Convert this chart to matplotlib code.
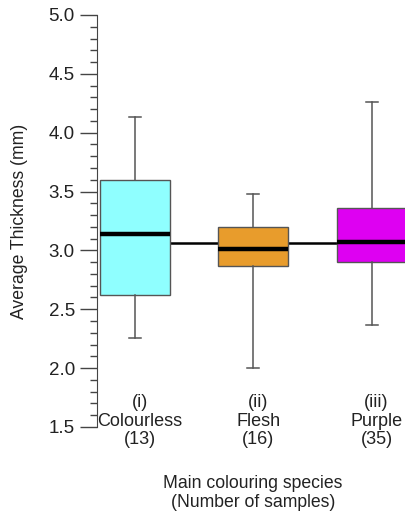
import matplotlib
matplotlib.use("Agg")
import matplotlib.pyplot as plt
from matplotlib.ticker import MultipleLocator

plt.rcParams['font.family'] = ['Liberation Sans', 'DejaVu Sans']

# Box statistics per colouring species
categories = ["(i)\nColourless\n(13)", "(ii)\nFlesh\n(16)", "(iii)\nPurple\n(35)"]
whisker_low = [2.26, 2.00, 2.37]
q1 = [2.62, 2.87, 2.90]
median = [3.14, 3.01, 3.07]
q3 = [3.60, 3.20, 3.36]
whisker_high = [4.13, 3.48, 4.26]
box_colors = ["#8FFFFF", "#E89C2C", "#DE00F2"]
overall_mean = 3.06

fig = plt.figure(figsize=(4.05, 5.16), dpi=100)
ax = fig.add_axes([0.2395, 0.1725, 0.7605, 0.7985])

stats = []
for i in range(len(categories)):
    stats.append(dict(whislo=whisker_low[i], q1=q1[i], med=median[i],
                      q3=q3[i], whishi=whisker_high[i], fliers=[]))

positions = list(range(1, len(categories) + 1))

# overall mean line behind the boxes
ax.hlines(overall_mean, positions[0], positions[-1], colors="black",
          linewidth=1.8, zorder=1)

bp = ax.bxp(stats, positions=positions, widths=0.59, patch_artist=True,
            showfliers=False,
            boxprops=dict(edgecolor="#555555", linewidth=1.0),
            whiskerprops=dict(color="#555555", linewidth=1.1),
            capprops=dict(color="#555555", linewidth=1.1),
            medianprops=dict(color="black", linewidth=3.2),
            capwidths=0.1)
for patch, c in zip(bp["boxes"], box_colors):
    patch.set_facecolor(c)
    patch.set_zorder(2)
for key in ("medians", "whiskers", "caps"):
    for art in bp[key]:
        art.set_zorder(3)

ax.set_xlim(0.68, 3.28)
ax.set_ylim(1.5, 5.0)

# category labels inside the lower part of the plot
for x, lab in zip(positions, categories):
    ax.text(x + 0.04, 1.55, lab, ha="center", va="center", fontsize=13,
            color="#222222", linespacing=1.12, clip_on=False)

ax.set_xticks([])
ax.yaxis.set_major_locator(MultipleLocator(0.5))
ax.yaxis.set_minor_locator(MultipleLocator(0.1))
ax.tick_params(axis="y", which="major", length=12, width=1.0,
               color="#444444", labelsize=13.5, labelcolor="#222222", pad=4)
ax.tick_params(axis="y", which="minor", length=5, width=1.0, color="#444444")

for side in ("top", "right", "bottom"):
    ax.spines[side].set_visible(False)
ax.spines["left"].set_color("#444444")

ax.set_ylabel("Average Thickness (mm)", fontsize=12.7, color="#222222")
ax.yaxis.set_label_coords(-0.25, 0.5)
ax.yaxis.label.set_verticalalignment("center")

fig.text(0.625, 0.045, "Main colouring species\n(Number of samples)",
         ha="center", va="center", fontsize=12.7, color="#222222",
         linespacing=1.12)

fig.savefig("out.png", dpi=100)
